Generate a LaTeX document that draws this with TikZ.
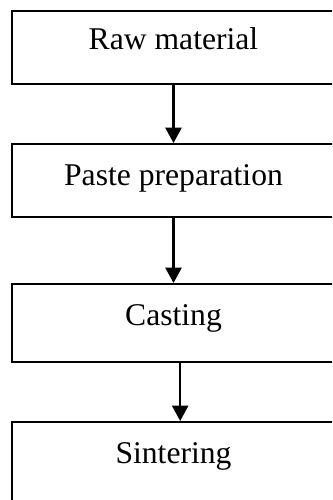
\documentclass[tikz,border=0pt]{standalone}
\usepackage{fontspec}
\setmainfont{Liberation Serif}
\usetikzlibrary{positioning,arrows.meta}

\begin{document}
\begin{tikzpicture}[x=0.03cm, y=-0.03cm,
    stage/.style={draw, line width=1.8pt, anchor=north, minimum width=9.69cm,
        inner xsep=0pt, inner ysep=0pt, font=\fontsize{27}{32}\selectfont},
    flow/.style={line width=2pt, -{Triangle[width=4.8mm,length=4.6mm]}}]
    \useasboundingbox (0,0) rectangle (332,500);
    \clip (0,0) rectangle (332,500);

    % Process steps
    \node[stage, text height=1.14cm, text depth=1.05cm] at (173.5,10) (raw) {Raw material};
    \node[stage, text height=1.23cm, text depth=0.96cm] at (173.5,143) (paste) {Paste preparation};
    \node[stage, text height=1.23cm, text depth=1.11cm] at (173.5,283) (cast) {Casting};
    \node[stage, text height=1.23cm, text depth=2.55cm] at (173.5,421) (sinter) {Sintering};

    % Arrows
    \draw[flow] (raw.south) -- (paste.north);
    \draw[flow] (paste.south) -- (cast.north);
    \draw[flow] ([xshift=0.2cm]cast.south) -- ([xshift=0.2cm]sinter.north);
\end{tikzpicture}
\end{document}
